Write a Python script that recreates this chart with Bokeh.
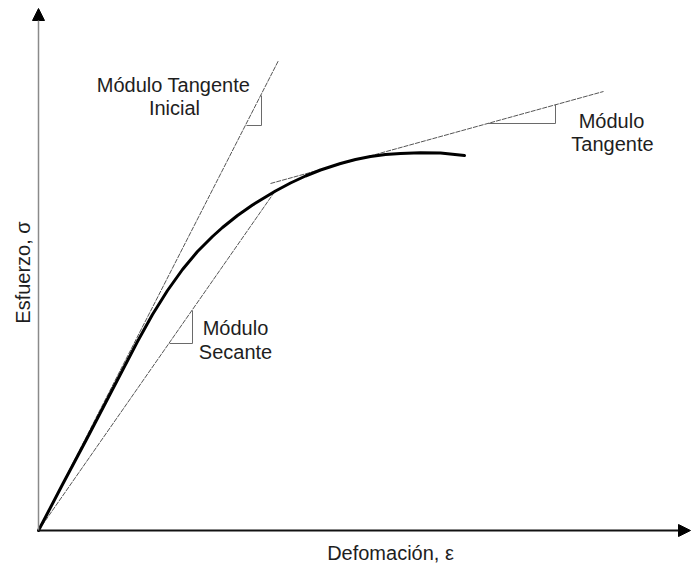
from bokeh.plotting import figure
from bokeh.models import Range1d, Arrow, NormalHead, ColumnDataSource
from bokeh.core.properties import value
from bokeh.embed import file_html
from bokeh.resources import INLINE
import math

# ---- data (arbitrary units) ----
strain = [0.00, 0.24, 0.49, 0.74, 0.99, 1.14, 1.29, 1.44, 1.59, 1.74, 1.84, 1.99, 2.14,
          2.37, 2.52, 2.67, 2.82, 3.02, 3.17, 3.32, 3.47, 3.62, 3.82, 4.02, 4.26]
stress = [0.00, 0.46, 0.93, 1.41, 1.89, 2.16, 2.40, 2.61, 2.79, 2.94, 3.03, 3.15, 3.255,
          3.395, 3.475, 3.545, 3.605, 3.67, 3.71, 3.74, 3.76, 3.77, 3.777, 3.775, 3.75]

tan_init_x = [0.00, 2.40]
tan_init_y = [0.00, 4.70]
secant_x = [0.00, 2.37]
secant_y = [0.00, 3.40]
tan_x = [2.32, 5.65]
tan_y = [3.47, 4.39]

tri_init_x = [2.08, 2.23, 2.23]
tri_init_y = [4.05, 4.05, 4.35]
tri_sec_x = [1.31, 1.54, 1.54]
tri_sec_y = [1.87, 1.87, 2.20]
tri_tan_x = [4.49, 5.17, 5.17]
tri_tan_y = [4.07, 4.07, 4.26]

x_axis_end = 6.52
y_axis_end = 5.22

label_text = ["Módulo Tangente", "Inicial", "Módulo", "Tangente", "Módulo", "Secante"]
label_x = [1.35, 1.36, 5.73, 5.74, 1.97, 1.97]
label_y = [4.46, 4.23, 4.10, 3.87, 2.03, 1.79]

x_label = "Defomación, ε"
y_label = "Esfuerzo, σ"

FONT = value("Liberation Sans")
TXT = "#1e1e1e"

p = figure(width=692, height=565, output_backend="svg", toolbar_location=None,
           x_range=Range1d(-0.38, 6.54), y_range=Range1d(-0.35, 5.30),
           min_border=0, background_fill_color="white", border_fill_color="white")
p.axis.visible = False
p.grid.visible = False
p.outline_line_color = None

# axes with arrows
p.add_layout(Arrow(end=NormalHead(size=12, fill_color="black", line_color="black"),
                   x_start=0, y_start=0, x_end=0, y_end=y_axis_end,
                   line_color="#8a8a8a", line_width=1.5))
p.add_layout(Arrow(end=NormalHead(size=12, fill_color="black", line_color="black"),
                   x_start=0, y_start=0, x_end=x_axis_end, y_end=0,
                   line_color="#111111", line_width=2))

# construction lines
for xs, ys in [(tan_init_x, tan_init_y), (secant_x, secant_y), (tan_x, tan_y)]:
    p.line(xs, ys, line_color="#555555", line_width=1, line_dash="5 1")
for xs, ys in [(tri_init_x, tri_init_y), (tri_sec_x, tri_sec_y), (tri_tan_x, tri_tan_y)]:
    p.line(xs, ys, line_color="#6a6a6a", line_width=1)

# stress-strain curve
p.line(strain, stress, line_color="black", line_width=3, line_join="round", line_cap="round")

src = ColumnDataSource(dict(x=label_x, y=label_y, t=label_text))
p.text(x="x", y="y", text="t", source=src, text_font=FONT, text_font_size="20px",
       text_color=TXT, text_align="center", text_baseline="middle")

p.text(x=[3.52], y=[-0.22], text=[x_label], text_font=FONT, text_font_size="20px",
       text_color=TXT, text_align="center", text_baseline="middle")
p.text(x=[-0.16], y=[2.58], text=[y_label], text_font=FONT, text_font_size="20px",
       text_color=TXT, text_align="center", text_baseline="middle", angle=math.pi / 2)

open("out.html", "w").write(file_html(p, INLINE))
